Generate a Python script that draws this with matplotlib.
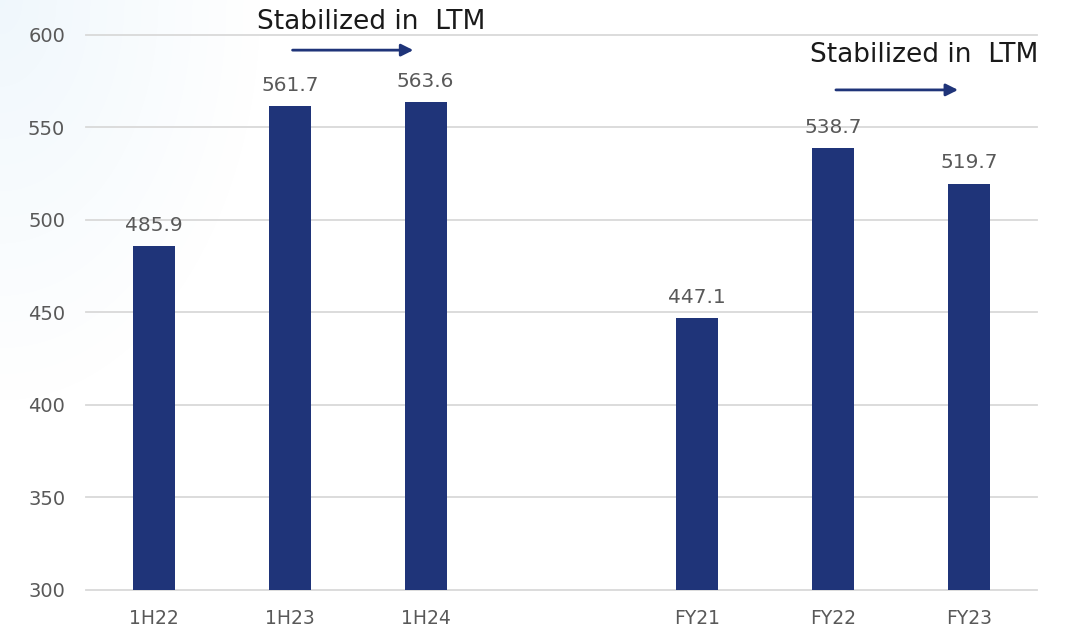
import numpy as np
import matplotlib.pyplot as plt

plt.rcParams['font.family'] = ['DejaVu Sans']

categories = ["1H22", "1H23", "1H24", "", "FY21", "FY22", "FY23"]
values = [485.9, 561.7, 563.6, None, 447.1, 538.7, 519.7]
labels = ["485.9", "561.7", "563.6", "", "447.1", "538.7", "519.7"]
yticks = [300, 350, 400, 450, 500, 550, 600]

navy = "#1F3479"
grey = "#595959"

fig = plt.figure(figsize=(10.66, 6.3), dpi=100)

# faint blue wash in the top-left corner
bg = fig.add_axes([0, 0, 1, 1], zorder=-10)
yy, xx = np.mgrid[0:630, 0:1066]
d = np.sqrt((xx / 260.0) ** 2 + (yy / 400.0) ** 2)
a = np.clip(1 - d, 0, 1)
img = np.ones((630, 1066, 3))
corner = np.array([0.94, 0.97, 0.99])
for c in range(3):
    img[:, :, c] = 1 - a * (1 - corner[c])
bg.imshow(img, aspect="auto", extent=[0, 1, 0, 1])
bg.axis("off")

ax = fig.add_axes([0.0807, 0.0635, 0.892, 0.881])
ax.patch.set_alpha(0)

x = np.arange(len(categories))
for i in range(len(categories)):
    if values[i] is None:
        continue
    ax.bar(x[i], values[i] - 300, bottom=300, width=0.31, color=navy, zorder=3)
    ax.annotate(labels[i], (x[i], values[i]), xytext=(0, 8), textcoords="offset points",
                ha="center", va="bottom", fontsize=14.5, color=grey)

ax.set_ylim(300, 600)
ax.set_xlim(-0.5, 6.5)
ax.set_yticks(yticks)
ax.set_xticks(x)
ax.set_xticklabels(categories)
ax.yaxis.grid(True, color="#D9D9D9", lw=1.3, zorder=0)
for gl in ax.get_ygridlines():
    gl.set_clip_on(False)
ax.set_axisbelow(True)
for s in ax.spines.values():
    s.set_visible(False)
ax.tick_params(axis="both", length=0, labelcolor=grey)
ax.tick_params(axis="y", pad=15, labelsize=14)
ax.tick_params(axis="x", pad=14, labelsize=13.5)

# "Stabilized in LTM" notes with arrows
ax.text(1.6, 607, "Stabilized in  LTM", ha="center", va="center", fontsize=19, color="#1a1a1a",
        clip_on=False)
ax.annotate("", xy=(1.93, 591.8), xytext=(1.0, 591.8),
            arrowprops=dict(arrowstyle="-|>", color=navy, lw=2, mutation_scale=18), annotation_clip=False)
ax.text(5.67, 589, "Stabilized in  LTM", ha="center", va="center", fontsize=19, color="#1a1a1a",
        clip_on=False)
ax.annotate("", xy=(5.94, 570.3), xytext=(5.0, 570.3),
            arrowprops=dict(arrowstyle="-|>", color=navy, lw=2, mutation_scale=18), annotation_clip=False)

plt.savefig("out.png", dpi=100)
